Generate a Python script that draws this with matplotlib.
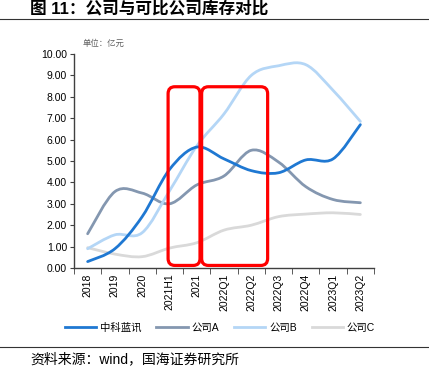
import numpy as np
import matplotlib
matplotlib.use("Agg")
import matplotlib.pyplot as plt
from matplotlib.path import Path
from matplotlib.patches import PathPatch, FancyBboxPatch
from matplotlib.lines import Line2D

plt.rcParams['font.family'] = ['Liberation Sans', 'Noto Sans CJK SC']

# data (亿元)
periods = ['2018', '2019', '2020', '2021H1', '2021', '2022Q1', '2022Q2',
           '2022Q3', '2022Q4', '2023Q1', '2023Q2']
zkl = [0.30, 0.90, 2.40, 4.60, 5.65, 5.10, 4.55, 4.45, 5.05, 5.10, 6.70]
comp_a = [1.60, 3.57, 3.50, 3.00, 3.88, 4.30, 5.50, 4.95, 3.80, 3.20, 3.05]
comp_b = [0.90, 1.55, 1.65, 3.60, 5.70, 7.20, 9.00, 9.45, 9.50, 8.30, 6.85]
comp_c = [0.95, 0.65, 0.53, 0.93, 1.18, 1.77, 2.00, 2.40, 2.52, 2.58, 2.50]
names = ['中科蓝讯', '公司A', '公司B', '公司C']
colors = ['#1f78d2', '#8497b0', '#b4d6f6', '#d9d9d9']


def smooth_path(x, y):
    # Excel-style smoothed line: cubic Bezier through each data point
    pts = np.column_stack([x, y]).astype(float)
    p = np.vstack([pts[0], pts, pts[-1]])
    verts = [tuple(pts[0])]
    codes = [Path.MOVETO]
    for i in range(1, len(p) - 2):
        c1 = p[i] + (p[i + 1] - p[i - 1]) / 6.0
        c2 = p[i + 1] - (p[i + 2] - p[i]) / 6.0
        verts += [tuple(c1), tuple(c2), tuple(p[i + 1])]
        codes += [Path.CURVE4] * 3
    return Path(verts, codes)


fig = plt.figure(figsize=(4.29, 3.87), dpi=100)
ax = fig.add_axes([74 / 429, 1 - 268 / 387, 300 / 429, 214 / 387])

x = np.arange(len(periods))
series = [zkl, comp_a, comp_b, comp_c]
order = [3, 1, 2, 0]
for k in order:
    patch = PathPatch(smooth_path(x, series[k]), facecolor='none',
                      edgecolor=colors[k], lw=2.0, capstyle='round', zorder=2 + (k == 0))
    ax.add_patch(patch)

# red highlight boxes
for x0, x1 in [(2.95, 4.12), (4.18, 6.6)]:
    box = FancyBboxPatch((x0, 0.12), x1 - x0, 8.35,
                         boxstyle='round,pad=0,rounding_size=0.25',
                         mutation_aspect=1.3,
                         facecolor='none', edgecolor='#ff0000', lw=2.3, zorder=5)
    ax.add_patch(box)

ax.set_xlim(-0.5, len(periods) - 0.5)
ax.set_ylim(0, 10)
ax.set_yticks(np.arange(0, 10.5, 1))
ax.set_yticklabels(['%.2f' % v for v in np.arange(0, 10.5, 1)], fontsize=7.5)
ax.set_xticks(x)
ax.set_xticklabels(periods, rotation=90, fontsize=7.5)
ax.set_xticks(np.arange(-0.5, len(periods), 1), minor=True)
ax.tick_params(axis='x', which='major', length=0, pad=4)
ax.tick_params(axis='x', which='minor', length=4, color='#404040')
ax.tick_params(axis='y', length=3, color='#404040', pad=2)
for s in ['top', 'right']:
    ax.spines[s].set_visible(False)
for s in ['left', 'bottom']:
    ax.spines[s].set_color('#404040')
    ax.spines[s].set_linewidth(1.0)

# unit label
fig.text(83 / 429, 1 - 44 / 387, '单位：亿元', fontsize=6, color='#606060', va='center')

# legend
handles = [Line2D([0], [0], color=c, lw=2.0) for c in colors]
fig.legend(handles, names, loc='center', bbox_to_anchor=(220 / 429, 1 - 328 / 387),
           ncol=4, frameon=False, fontsize=7.5, handlelength=3.0, columnspacing=1.4,
           handletextpad=0.4)

# title and source
fig.text(30 / 429, 1 - 9 / 387, '图 11：公司与可比公司库存对比', fontsize=12,
         fontweight='bold', va='center', ha='left')
fig.add_artist(Line2D([0, 1], [1 - 19 / 387] * 2, color='#333333', lw=0.8))
fig.add_artist(Line2D([0, 1], [1 - 347 / 387] * 2, color='#333333', lw=0.8))
fig.text(30 / 429, 1 - 359 / 387, '资料来源：wind，国海证券研究所', fontsize=10,
         va='center', ha='left')

fig.savefig('out.png', dpi=100)
